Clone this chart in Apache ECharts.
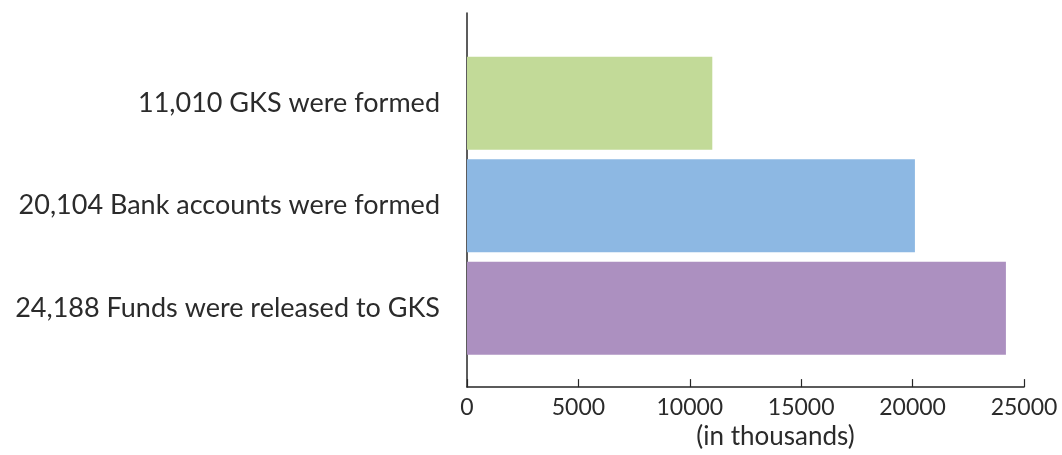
<!DOCTYPE html>
<html>
<head>
<meta charset="utf-8">
<title>GKS progress</title>
<script src="https://cdn.jsdelivr.net/npm/echarts@6/dist/echarts.min.js"></script>
<style>
  html, body { margin: 0; padding: 0; background: #ffffff; }
  #chart { width: 1062px; height: 455px; }
</style>
</head>
<body>
<div id="chart"></div>
<script>
// Categories, top to bottom
const categories = [
  '11,010 GKS were formed',
  '20,104 Bank accounts were formed',
  '24,188 Funds were released to GKS'
];
const values = [11010, 20104, 24188];
const barColors = ['#c2da98', '#8db8e3', '#ac90c0'];
const xTicks = [0, 5000, 10000, 15000, 20000, 25000];

const FONT = 'Lato, "Open Sans", sans-serif';
const AXIS_COLOR = '#262626';
const TEXT_COLOR = '#2b2b2b';

const chart = echarts.init(document.getElementById('chart'));

chart.setOption({
  animation: false,
  backgroundColor: '#ffffff',
  grid: [
    // Outer frame: carries the visible axes
    { left: 467, right: 38, top: 13, bottom: 57 },
    // Inner band area holding the bars
    { left: 467, right: 38, top: 52, height: 307.5 }
  ],
  xAxis: [
    {
      gridIndex: 0,
      type: 'value',
      min: xTicks[0],
      max: xTicks[xTicks.length - 1],
      interval: xTicks[1] - xTicks[0],
      name: '(in thousands)',
      nameLocation: 'middle',
      nameGap: 34,
      nameTextStyle: { fontFamily: FONT, fontSize: 26, color: TEXT_COLOR, padding: [0, 0, 0, 60] },
      axisLine: { show: true, lineStyle: { color: AXIS_COLOR, width: 1.5 } },
      axisTick: { show: true, inside: true, length: 8, lineStyle: { color: AXIS_COLOR, width: 1.2 } },
      axisLabel: { fontFamily: FONT, fontSize: 23, color: TEXT_COLOR, margin: 9, formatter: v => String(v) },
      splitLine: { show: false }
    },
    {
      gridIndex: 1,
      type: 'value',
      min: xTicks[0],
      max: xTicks[xTicks.length - 1],
      show: false
    }
  ],
  yAxis: [
    {
      gridIndex: 0,
      type: 'value',
      min: 0,
      max: 1,
      axisLine: { show: true, lineStyle: { color: AXIS_COLOR, width: 1.5 } },
      axisTick: { show: false },
      axisLabel: { show: false },
      splitLine: { show: false }
    },
    {
      gridIndex: 1,
      type: 'category',
      inverse: true,
      data: categories,
      axisLine: { show: false },
      axisTick: { show: false },
      axisLabel: { fontFamily: FONT, fontSize: 27, color: TEXT_COLOR, margin: 27 }
    }
  ],
  series: [
    {
      type: 'bar',
      xAxisIndex: 1,
      yAxisIndex: 1,
      barWidth: 93,
      data: values.map((v, i) => ({ value: v, itemStyle: { color: barColors[i] } }))
    }
  ]
});
</script>
</body>
</html>
